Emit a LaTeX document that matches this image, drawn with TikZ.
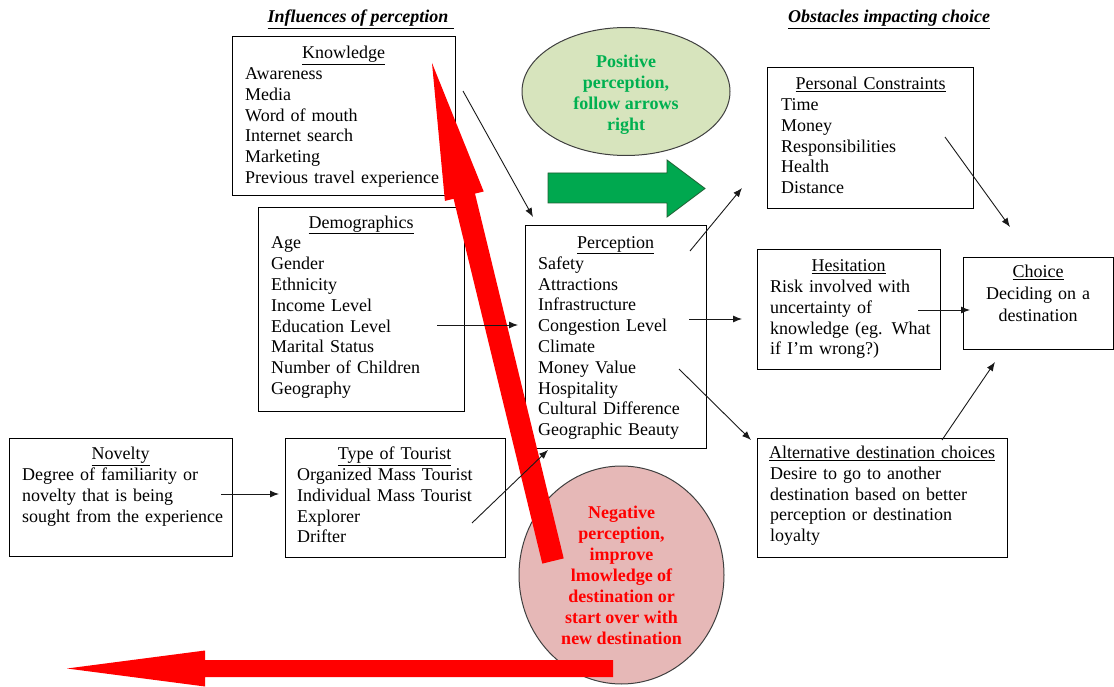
\documentclass[tikz,border=0pt]{standalone}
\usepackage{fontspec}
\setmainfont{Liberation Serif}
\usetikzlibrary{arrows.meta,shapes.geometric}
\definecolor{posfill}{HTML}{D7E4BD}
\definecolor{posgreen}{HTML}{00B050}
\definecolor{negfill}{HTML}{E6B8B7}
\definecolor{arrowgreen}{HTML}{00A84F}
\definecolor{arrowedge}{HTML}{1F5F32}
\definecolor{ovaledge}{HTML}{3F3F3F}
\newcommand{\boxtitle}[1]{\makebox[\linewidth]{\strut\underline{#1}}\\}
\begin{document}
\begin{tikzpicture}[x=1pt,y=-1pt,
  box/.style={draw=black, line width=1.3pt, inner sep=0pt, anchor=north west},
  txt/.style={inner sep=0pt, anchor=north west, align=left, font=\fontsize{18}{20.8}\selectfont},
  head/.style={inner sep=0pt, anchor=base, font=\fontsize{18}{21}\selectfont\bfseries\itshape},
  oval/.style={ellipse, draw=ovaledge, line width=1pt, inner sep=0pt, align=center, font=\fontsize{18}{21}\selectfont\bfseries},
  ovaltxt/.style={inner sep=0pt, align=center, font=\fontsize{18}{21}\selectfont\bfseries},
  conn/.style={draw=black!90, line width=0.9pt, -{Latex[length=9pt,width=7pt]}},
]
\useasboundingbox (0,0) rectangle (1114,687);

% headings
\node[head] (h1) at (361,22.5) {\underline{Influences of perception\hspace{6pt}}};
\node[head] (h2) at (889,22.5) {\underline{Obstacles impacting choice}};

% boxes
\node[box, minimum width=223pt, minimum height=159pt] (know) at (232,36) {};
\node[txt, text width=197pt] (knowT) at (245,44) {\boxtitle{Knowledge}Awareness\\Media\\Word of mouth\\Internet search\\Marketing\\\mbox{Previous travel experience}};

\node[box, minimum width=206pt, minimum height=204pt] (demo) at (258,207) {};
\node[txt, text width=180pt] (demoT) at (271,213.4) {\boxtitle{Demographics}Age\\Gender\\Ethnicity\\Income Level\\Education Level\\Marital Status\\Number of Children\\Geography};

\node[box, minimum width=181pt, minimum height=223pt] (perc) at (525,225) {};
\node[txt, text width=155pt] (percT) at (538,233.7) {\boxtitle{Perception}Safety\\Attractions\\Infrastructure\\Congestion Level\\Climate\\Money Value\\Hospitality\\\mbox{Cultural Difference}\\\mbox{Geographic Beauty}};

\node[box, minimum width=206pt, minimum height=141pt] (pers) at (767,67) {};
\node[txt, text width=179pt] (persT) at (781,74.9) {\boxtitle{Personal Constraints}Time\\Money\\Responsibilities\\Health\\Distance};

\node[box, minimum width=183pt, minimum height=120pt] (hes) at (757,249) {};
\node[txt, text width=157pt] (hesT) at (770,256.9) {\boxtitle{Hesitation}Risk involved with\\uncertainty of\\\mbox{knowledge (eg. What}\\if I'm wrong?)};

\node[box, minimum width=150pt, minimum height=92pt] (choice) at (963,257) {};
\node[txt, anchor=north, align=center, text width=124pt, font=\fontsize{18}{22}\selectfont] (choiceT) at (1038,262) {\strut\underline{Choice}\\Deciding on a\\destination};

\node[box, minimum width=250pt, minimum height=119pt] (alt) at (757,438) {};
\node[txt, text width=224pt] (altT) at (770,443.7) {\boxtitle{Alternative destination choices}Desire to go to another\\\mbox{destination based on better}\\perception or destination\\loyalty};

\node[box, minimum width=223pt, minimum height=118pt] (nov) at (9,438) {};
\node[txt, text width=197pt] (novT) at (22,445) {\boxtitle{Novelty}Degree of familiarity or\\novelty that is being\\\mbox{sought from the experience}};

\node[box, minimum width=220pt, minimum height=119pt] (tour) at (285,438) {};
\node[txt, text width=195pt] (tourT) at (297,445) {\boxtitle{Type of Tourist}Organized Mass Tourist\\Individual Mass Tourist\\Explorer\\Drifter};

% ovals
\node[oval, fill=posfill, minimum width=208pt, minimum height=128pt] (pos) at (626,91.5) {};
\node[ovaltxt, text=posgreen] (posT) at (626,94.5) {Positive\\perception,\\follow arrows\\right};
\node[oval, fill=negfill, text=red, minimum width=205pt, minimum height=218pt] (neg) at (621.5,575) {Negative\\perception,\\improve\\lmowledge of\\destination or\\start over with\\new destination};

% green block arrow
\filldraw[fill=arrowgreen, draw=arrowedge, line width=0.8pt] (548,173) -- (667,173) -- (667,160) -- (705,188.5) -- (667,217) -- (667,203) -- (548,203) -- cycle;

% red block arrows
\fill[red] (432,63) -- (483.7,191.5) -- (475,193.6) -- (563.7,558.4) -- (542.3,563.6) -- (453.6,198.8) -- (444.9,200.9) -- cycle;
\fill[red] (67,668.5) -- (205,650.5) -- (205,660) -- (613,660) -- (613,677) -- (205,677) -- (205,686.5) -- cycle;

% connector end points
\coordinate (knOut) at (463,91);   \coordinate (pcInA) at (533,217);
\coordinate (dmOut) at (437,325);  \coordinate (pcInB) at (518,325);
\coordinate (tyOut) at (472,523);  \coordinate (pcInC) at (548,450);
\coordinate (nvOut) at (221,494);  \coordinate (tyIn)  at (279,494);
\coordinate (pcOutA) at (690,251); \coordinate (psIn)  at (742,188);
\coordinate (pcOutB) at (689,319); \coordinate (hsIn)  at (742,319);
\coordinate (pcOutC) at (679,369); \coordinate (alIn)  at (751,440);
\coordinate (psOut) at (945,137);  \coordinate (chInA) at (1010,227);
\coordinate (hsOut) at (918,310);  \coordinate (chInB) at (970,310);
\coordinate (alOut) at (942,440);  \coordinate (chInC) at (995,362);

\draw[conn] (knOut) -- (pcInA);
\draw[conn] (dmOut) -- (pcInB);
\draw[conn] (tyOut) -- (pcInC);
\draw[conn] (nvOut) -- (tyIn);
\draw[conn] (pcOutA) -- (psIn);
\draw[conn] (pcOutB) -- (hsIn);
\draw[conn] (pcOutC) -- (alIn);
\draw[conn] (psOut) -- (chInA);
\draw[conn] (hsOut) -- (chInB);
\draw[conn] (alOut) -- (chInC);
\end{tikzpicture}
\end{document}
